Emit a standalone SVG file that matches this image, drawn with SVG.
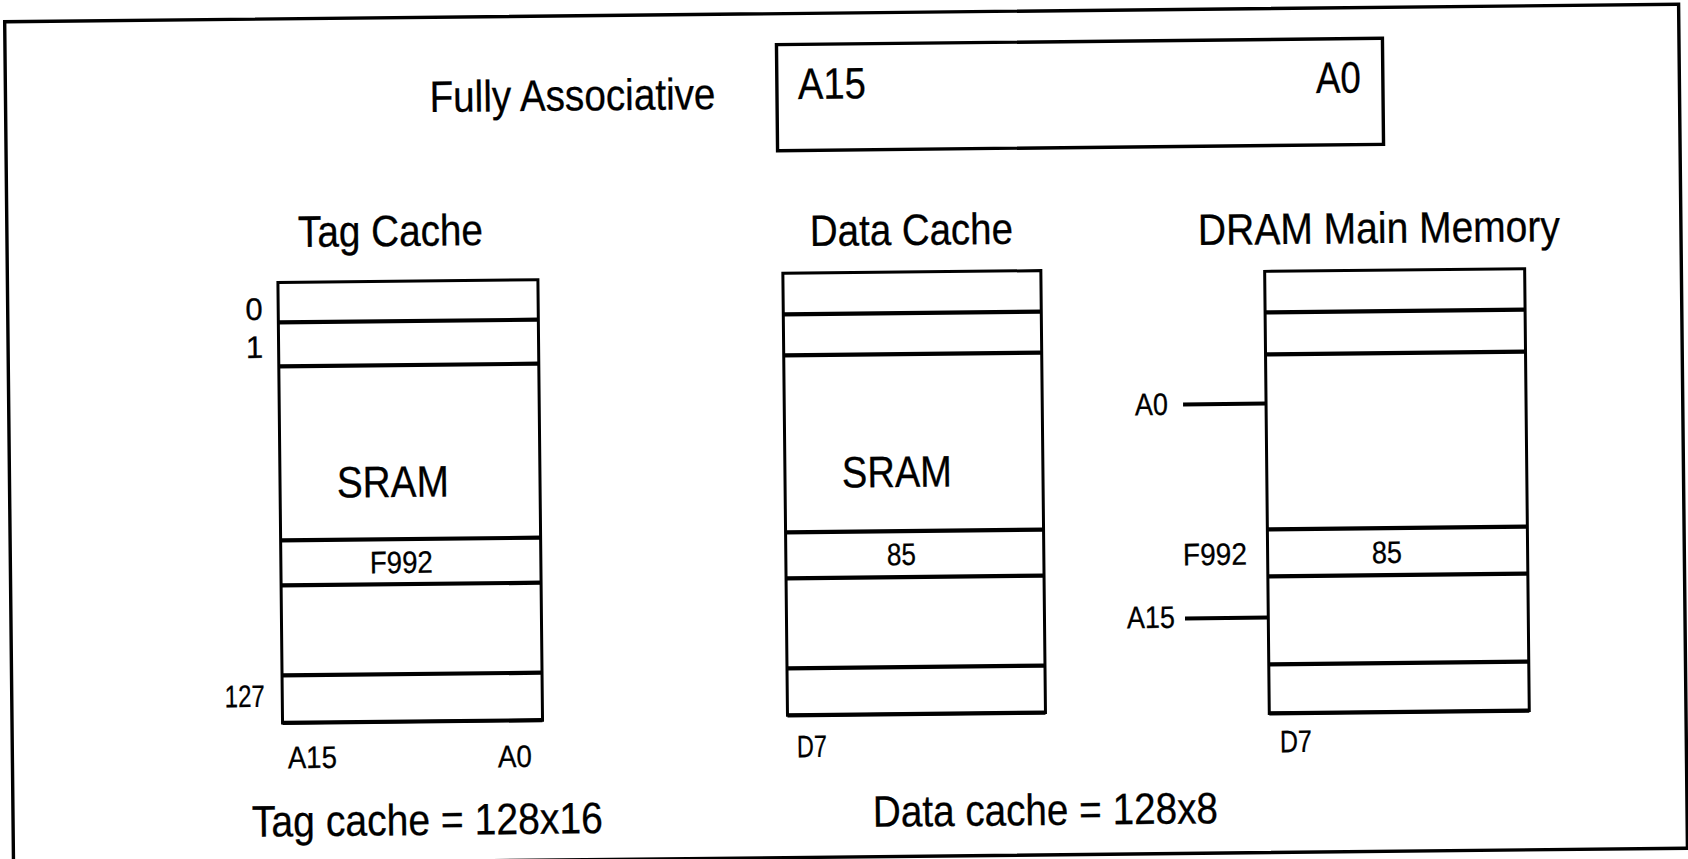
<svg xmlns="http://www.w3.org/2000/svg" width="1688" height="859" viewBox="0 0 1688 859">
<style>
  .t { font-family: "Liberation Sans", Arial, Helvetica, sans-serif; fill: #000; stroke: #000; stroke-width: 0.3; }
  .big { font-size: 44px; }
  .sm { font-size: 31px; }
  .box { fill: none; stroke: #000; stroke-width: 3; }
  .div { stroke: #000; stroke-width: 4.2; fill: none; }
  .lead { stroke: #000; stroke-width: 4; fill: none; }
</style>
<rect x="0" y="0" width="1688" height="859" fill="#ffffff"/>
<g transform="rotate(-0.6 844 430)">
  <rect id="frame" x="9" y="13" width="1674" height="844" fill="none" stroke="#000" stroke-width="3.4"/>

  <g id="title">
    <text class="t big" x="433" y="107.7" textLength="286" lengthAdjust="spacingAndGlyphs">Fully Associative</text>
  </g>

  <g id="address-register">
    <rect x="780.5" y="44" width="606" height="106" fill="none" stroke="#000" stroke-width="3.4"/>
    <text class="t big" x="801.5" y="98.5" textLength="68" lengthAdjust="spacingAndGlyphs">A15</text>
    <text class="t big" x="1319.5" y="98" textLength="45" lengthAdjust="spacingAndGlyphs">A0</text>
  </g>

  <g id="tag-cache">
    <text class="t big" x="300" y="241.3" textLength="185" lengthAdjust="spacingAndGlyphs">Tag Cache</text>
    <rect class="box" x="279.5" y="276.5" width="260" height="440.5"/>
    <line class="div" x1="279.5" y1="316.5" x2="539.5" y2="316.5"/>
    <line class="div" x1="279.5" y1="360.5" x2="539.5" y2="360.5"/>
    <line class="div" x1="279.5" y1="534.5" x2="539.5" y2="534.5"/>
    <line class="div" x1="279.5" y1="579.5" x2="539.5" y2="579.5"/>
    <line class="div" x1="279.5" y1="669.5" x2="539.5" y2="669.5"/>
    <line class="div" x1="279.5" y1="717" x2="539.5" y2="717"/>
    <text class="t sm" x="264" y="313.8" text-anchor="end">0</text>
    <text class="t sm" x="264" y="351.8" text-anchor="end">1</text>
    <text class="t sm" x="222" y="700.7" textLength="40" lengthAdjust="spacingAndGlyphs">127</text>
    <text class="t big" x="336.3" y="492.3" textLength="112" lengthAdjust="spacingAndGlyphs">SRAM</text>
    <text class="t sm" x="368.5" y="568.4" textLength="63" lengthAdjust="spacingAndGlyphs">F992</text>
    <text class="t sm" x="284.5" y="762.4" textLength="49" lengthAdjust="spacingAndGlyphs">A15</text>
    <text class="t sm" x="494.5" y="763.6" textLength="34" lengthAdjust="spacingAndGlyphs">A0</text>
  </g>

  <g id="data-cache">
    <text class="t big" x="812" y="245.6" textLength="203" lengthAdjust="spacingAndGlyphs">Data Cache</text>
    <rect class="box" x="784.5" y="272.7" width="258" height="442"/>
    <line class="div" x1="784.5" y1="313.7" x2="1042.5" y2="313.7"/>
    <line class="div" x1="784.5" y1="354.7" x2="1042.5" y2="354.7"/>
    <line class="div" x1="784.5" y1="531.7" x2="1042.5" y2="531.7"/>
    <line class="div" x1="784.5" y1="577.7" x2="1042.5" y2="577.7"/>
    <line class="div" x1="784.5" y1="667.7" x2="1042.5" y2="667.7"/>
    <line class="div" x1="784.5" y1="714.7" x2="1042.5" y2="714.7"/>
    <text class="t big" x="841.4" y="487.6" textLength="110" lengthAdjust="spacingAndGlyphs">SRAM</text>
    <text class="t sm" x="885.6" y="565.6" textLength="29" lengthAdjust="spacingAndGlyphs">85</text>
    <text class="t sm" x="793.6" y="756.7" textLength="30" lengthAdjust="spacingAndGlyphs">D7</text>
  </g>

  <g id="dram">
    <text class="t big" x="1200" y="248.7" textLength="362" lengthAdjust="spacingAndGlyphs">DRAM Main Memory</text>
    <rect class="box" x="1266.3" y="275.8" width="260" height="442"/>
    <line class="div" x1="1266.3" y1="316.8" x2="1526.3" y2="316.8"/>
    <line class="div" x1="1266.3" y1="358.8" x2="1526.3" y2="358.8"/>
    <line class="div" x1="1266.3" y1="533.8" x2="1526.3" y2="533.8"/>
    <line class="div" x1="1266.3" y1="580.8" x2="1526.3" y2="580.8"/>
    <line class="div" x1="1266.3" y1="668.8" x2="1526.3" y2="668.8"/>
    <line class="div" x1="1266.3" y1="717.8" x2="1526.3" y2="717.8"/>
    <text class="t sm" x="1135.2" y="418.2" textLength="33" lengthAdjust="spacingAndGlyphs">A0</text>
    <text class="t sm" x="1181.6" y="568.9" textLength="64" lengthAdjust="spacingAndGlyphs">F992</text>
    <text class="t sm" x="1370.6" y="568.7" textLength="30" lengthAdjust="spacingAndGlyphs">85</text>
    <text class="t sm" x="1124.9" y="631.2" textLength="48" lengthAdjust="spacingAndGlyphs">A15</text>
    <text class="t sm" x="1276.6" y="756.7" textLength="32" lengthAdjust="spacingAndGlyphs">D7</text>
  </g>

  <g id="connectors">
    <line class="lead" x1="1183.3" y1="408" x2="1266.3" y2="408"/>
    <line class="lead" x1="1183" y1="622" x2="1266.3" y2="622"/>
  </g>

  <g id="summary">
    <text class="t big" x="247.8" y="830.6" textLength="351" lengthAdjust="spacingAndGlyphs">Tag cache = 128x16</text>
    <text class="t big" x="868.9" y="827.1" textLength="345" lengthAdjust="spacingAndGlyphs">Data cache = 128x8</text>
  </g>
</g>
</svg>
